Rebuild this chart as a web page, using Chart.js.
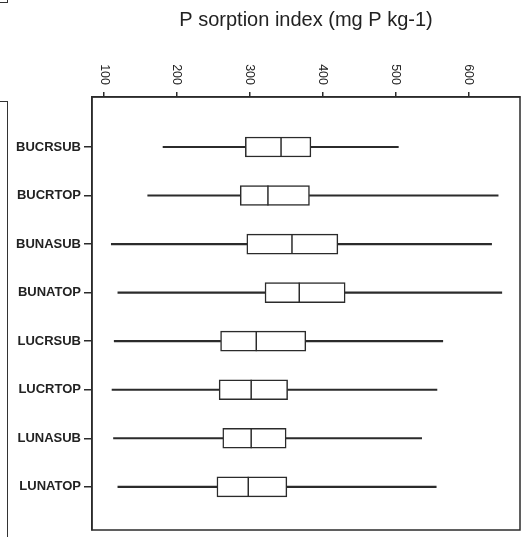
<!DOCTYPE html>
<html>
<head>
<meta charset="utf-8">
<script src="https://cdn.jsdelivr.net/npm/chart.js@4"></script>
<style>
  html, body { margin: 0; background: #fff; overflow: hidden; }
  #wrap { position: relative; width: 521px; height: 537px; overflow: hidden; }
  #wrap canvas { display: block; }
  .edge { position: absolute; border-color: #333; border-style: solid; border-width: 0; }
</style>
</head>
<body>
<div id="wrap">
  <div class="edge" style="left:-10px; top:-10px; width:16.5px; height:12px; border-right-width:1.5px; border-bottom-width:1.5px;"></div>
  <div class="edge" style="left:-10px; top:101px; width:16.5px; height:460px; border-right-width:1.5px; border-top-width:1.5px;"></div>
  <canvas id="chart" width="521" height="537"></canvas>
</div>
<script>
// groups, top to bottom
const groups = ["BUCRSUB", "BUCRTOP", "BUNASUB", "BUNATOP", "LUCRSUB", "LUCRTOP", "LUNASUB", "LUNATOP"];
// box plot stats (mg P kg-1)
const minVals = [181, 160, 110, 119, 114, 111, 113, 119];
const q1Vals  = [294, 287, 296, 321, 260, 258, 263, 255];
const medVals = [343, 325, 358, 368, 309, 302, 302, 298];
const q3Vals  = [384, 382, 421, 431, 377, 352, 350, 351];
const maxVals = [504, 641, 632, 646, 565, 557, 536, 556];
const xTicks = [100, 200, 300, 400, 500, 600];

const ink = "#2b2b2b";
const pos = groups.map((g, i) => i + 1);

// draws the outer frame and the clockwise tick labels on top
const framePlugin = {
    id: "frame",
    afterDraw(chart) {
        const ctx = chart.ctx;
        const a = chart.chartArea;
        const xs = chart.scales.x;
        ctx.save();
        ctx.strokeStyle = ink;
        ctx.lineWidth = 1.5;
        ctx.strokeRect(a.left, a.top, a.right - a.left, a.bottom - a.top);
        ctx.fillStyle = "#222";
        ctx.font = "12.5px 'Liberation Sans', Arial, sans-serif";
        ctx.textAlign = "right";
        ctx.textBaseline = "middle";
        xTicks.forEach(v => {
            ctx.save();
            ctx.translate(xs.getPixelForValue(v), 85);
            ctx.rotate(Math.PI / 2);
            ctx.fillText(String(v), 0, 0);
            ctx.restore();
        });
        ctx.restore();
    }
};

new Chart(document.getElementById("chart"), {
    type: "bar",
    data: {
        datasets: [
            {
                label: "lower whisker",
                data: pos.map((p, i) => ({ y: p, x: [minVals[i], q1Vals[i]] })),
                backgroundColor: ink,
                borderWidth: 0,
                barThickness: 1.5,
                grouped: false,
                order: 3
            },
            {
                label: "upper whisker",
                data: pos.map((p, i) => ({ y: p, x: [q3Vals[i], maxVals[i]] })),
                backgroundColor: ink,
                borderWidth: 0,
                barThickness: 1.5,
                grouped: false,
                order: 3
            },
            {
                label: "box",
                data: pos.map((p, i) => ({ y: p, x: [q1Vals[i], q3Vals[i]] })),
                backgroundColor: "#fff",
                borderColor: ink,
                borderWidth: 1.5,
                borderSkipped: false,
                barThickness: 20,
                grouped: false,
                order: 2
            },
            {
                type: "scatter",
                label: "median",
                data: pos.map((p, i) => ({ x: medVals[i], y: p })),
                pointStyle: "line",
                rotation: 90,
                radius: 10,
                hoverRadius: 10,
                borderColor: ink,
                borderWidth: 1.5,
                order: 1
            }
        ]
    },
    options: {
        indexAxis: "y",
        responsive: false,
        animation: false,
        layout: { autoPadding: false, padding: { top: 0, right: 1, bottom: 7, left: 0 } },
        plugins: {
            legend: { display: false },
            tooltip: { enabled: false },
            title: {
                display: true,
                fullSize: false,
                text: "P sorption index (mg P kg-1)",
                color: "#222",
                font: { family: "'Liberation Sans', Arial, sans-serif", size: 20, weight: "normal", lineHeight: 1.2 },
                padding: { top: 8, bottom: 60 }
            }
        },
        scales: {
            x: {
                type: "linear",
                position: "top",
                offset: false,
                min: 83.5,
                max: 671,
                afterBuildTicks: s => { s.ticks = xTicks.map(v => ({ value: v })); },
                ticks: { display: false },
                grid: { offset: false, drawOnChartArea: false, tickLength: 5, color: ink, lineWidth: 1.5 },
                border: { display: true, color: ink, width: 1.5 }
            },
            y: {
                type: "linear",
                reverse: true,
                offset: false,
                min: -0.03,
                max: 8.89,
                afterBuildTicks: s => { s.ticks = pos.map(v => ({ value: v })); },
                afterFit: s => { s.width = 92; s.paddingTop = 0; s.paddingBottom = 0; },
                ticks: {
                    padding: 3,
                    color: "#222",
                    font: { family: "'Liberation Sans', Arial, sans-serif", size: 13, weight: "bold" },
                    callback: v => groups[v - 1]
                },
                grid: { offset: false, drawOnChartArea: false, tickLength: 8, color: ink, lineWidth: 1.5 },
                border: { display: true, color: ink, width: 1.5 }
            }
        }
    },
    plugins: [framePlugin]
});
</script>
</body>
</html>
